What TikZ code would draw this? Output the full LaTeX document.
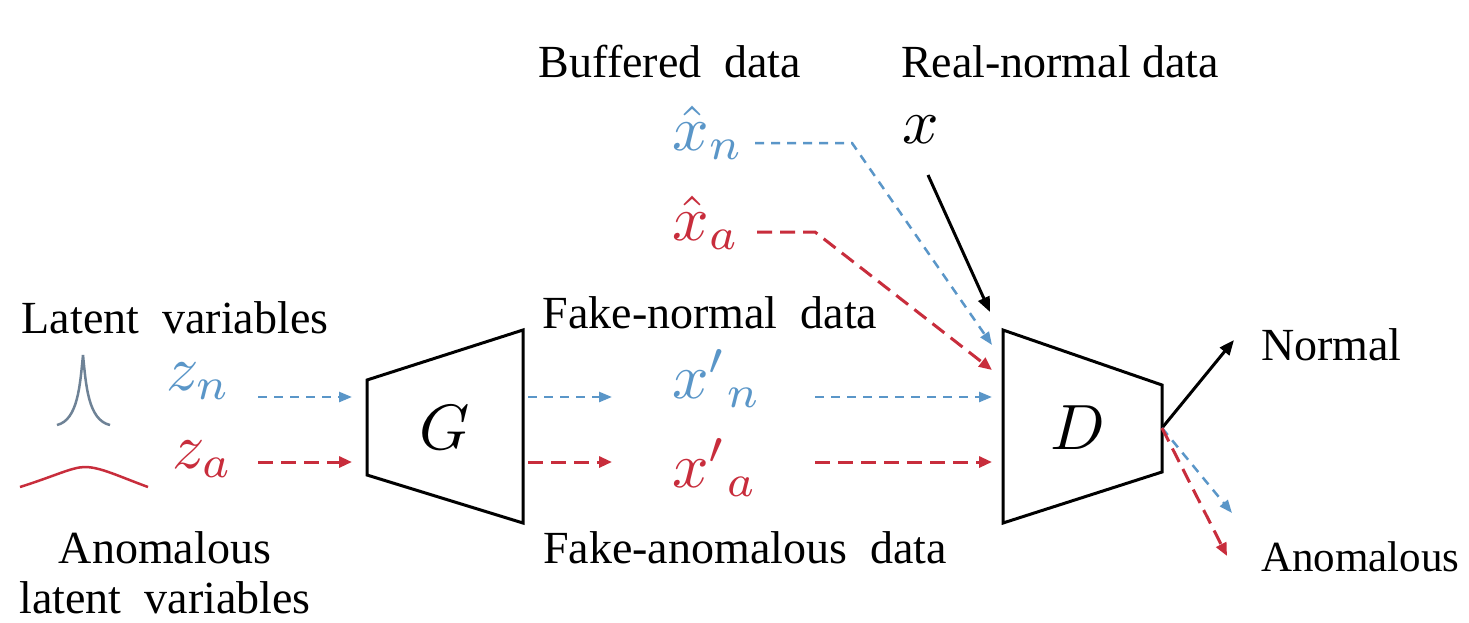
\documentclass[tikz,border=0pt]{standalone}
\usepackage{graphicx}
\usepackage{fontspec}
\setmainfont{Liberation Serif}
\usetikzlibrary{arrows.meta}
\definecolor{nblue}{RGB}{90,150,200}
\definecolor{ared}{RGB}{200,45,60}
\definecolor{cblue}{RGB}{110,130,150}
\newcommand{\mymathbig}[1]{\scalebox{6.4}{$#1$}}
\begin{document}
\begin{tikzpicture}[x=1pt,y=-1pt,
  txt/.style={inner sep=0pt,font=\fontsize{46}{50}\selectfont},
  mth/.style={inner sep=0pt,anchor=base west},
  box/.style={draw=black,line width=3pt,line join=miter},
  barr/.style={draw=nblue,line width=2.5pt,dash pattern=on 9pt off 7pt,-{Triangle[length=13pt,width=10pt]}},
  rarr/.style={draw=ared,line width=3pt,dash pattern=on 15pt off 8pt,-{Triangle[length=13pt,width=11pt]}},
  karr/.style={draw=black,line width=3pt,-{Triangle[length=15pt,width=12pt]}}]
\useasboundingbox (0,0) rectangle (1469,622);
\fill[white] (0,0) rectangle (1469,622);
% labels
\node[txt] (lat) at (175,318) {Latent\ \ variables};
\node[txt] (anom1) at (165,548) {Anomalous};
\node[txt] (anom2) at (165,598) {latent\ \ variables};
\node[txt] (buf) at (670,62) {Buffered\ \ data};
\node[txt] (real) at (1060,62) {Real-normal data};
\node[txt] (fn) at (710,313) {Fake-normal\ \ data};
\node[txt] (fa) at (745,548) {Fake-anomalous\ \ data};
\node[txt,anchor=west] (nor) at (1261,345) {Normal};
\node[txt,anchor=west,font=\fontsize{43}{47}\selectfont] (ano) at (1261,557) {Anomalous};
% math
\node[mth,text=nblue] (zn) at (166,390) {\mymathbig{z_n}};
\node[mth,text=ared] (za) at (172,468) {\mymathbig{z_a}};
\node[mth,text=nblue] (xhn) at (672,150) {\mymathbig{\hat{x}_n}};
\node[mth,text=ared] (xha) at (672,240) {\mymathbig{\hat{x}_a}};
\node[mth] (xr) at (902,143) {\mymathbig{x}};
\node[mth,text=nblue] (xpn) at (672,398) {\mymathbig{{x'}_n}};
\node[mth,text=ared] (xpa) at (672,487) {\mymathbig{{x'}_a}};
% distributions
\draw[cblue,line width=2.5pt] (57,425) .. controls (78,420) and (80,385) .. (83,355) .. controls (86,385) and (88,420) .. (110,425);
\draw[ared,line width=2.5pt] (20,487) .. controls (55,476) and (72,467) .. (85,467) .. controls (100,467) and (118,476) .. (148,487);
% G and D
\draw[box] (367,380) -- (523,330) -- (523,523) -- (367,475) -- cycle;
\draw[box] (1003,330) -- (1162,385) -- (1162,472) -- (1003,523) -- cycle;
\node[mth,anchor=center] (G) at (445,428) {\mymathbig{G}};
\node[mth,anchor=center] (D) at (1078,428) {\mymathbig{D}};
% coordinates
\coordinate (zno) at (258,397); \coordinate (Gin1) at (352,397);
\coordinate (zao) at (258,462); \coordinate (Gin2) at (352,462);
\coordinate (Go1) at (528,397); \coordinate (xpni) at (612,397);
\coordinate (Go2) at (528,462); \coordinate (xpai) at (612,462);
\coordinate (xpno) at (815,397); \coordinate (Din1) at (992,397);
\coordinate (xpao) at (815,462); \coordinate (Din2) at (992,462);
\coordinate (xhno) at (755,143); \coordinate (xhnb) at (852,143); \coordinate (Dtb) at (992,345);
\coordinate (xhao) at (757,232); \coordinate (xhab) at (815,232); \coordinate (Dtr) at (992,370);
\coordinate (xro) at (928,175); \coordinate (Dtk) at (990,312);
\coordinate (Dout) at (1162,428); \coordinate (nori) at (1234,340);
\coordinate (anob) at (1232,513); \coordinate (anor) at (1227,556);
% connectors
\draw[barr] (zno) -- (Gin1);
\draw[rarr] (zao) -- (Gin2);
\draw[barr] (Go1) -- (xpni);
\draw[rarr] (Go2) -- (xpai);
\draw[barr] (xpno) -- (Din1);
\draw[rarr] (xpao) -- (Din2);
\draw[barr] (xhno) -- (xhnb) -- (Dtb);
\draw[rarr] (xhao) -- (xhab) -- (Dtr);
\draw[karr] (xro) -- (Dtk);
\draw[karr] (Dout) -- (nori);
\draw[barr] (Dout) -- (anob);
\draw[rarr] (Dout) -- (anor);
\end{tikzpicture}
\end{document}
